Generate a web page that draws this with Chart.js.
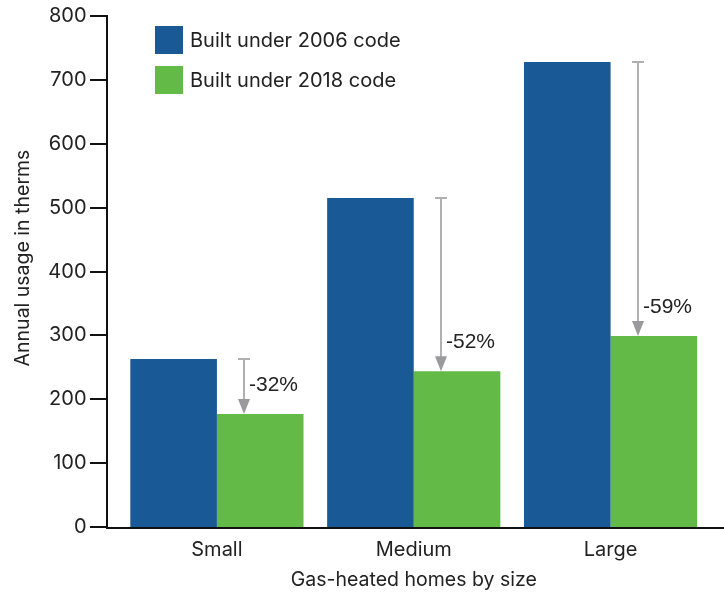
<!DOCTYPE html>
<html>
<head>
<meta charset="utf-8">
<script src="https://cdn.jsdelivr.net/npm/chart.js@4/dist/chart.umd.min.js"></script>
<style>
  body { margin: 0; background: #fff; }
  #wrap { width: 724px; height: 592px; }
</style>
</head>
<body>
<div id="wrap"><canvas id="chart" width="724" height="592"></canvas></div>
<script>
const sizes = ['Small', 'Medium', 'Large'];
const built2006 = [263, 515, 728];
const built2018 = [177, 244, 299];
const changeLabels = ['-32%', '-52%', '-59%'];
const yTicks = [0, 100, 200, 300, 400, 500, 600, 700, 800];
const yTitle = 'Annual usage in therms';

const blue = '#195a96';
const green = '#63ba47';
const textColor = '#222';

// axes, arrows, y title and legend drawn on top of the bars
const overlay = {
  id: 'overlay',
  afterDatasetsDraw(chart) {
    const { ctx, scales: { x, y } } = chart;
    const axisX = 107;
    const zeroY = y.getPixelForValue(0);
    ctx.save();

    // axis lines + y tick marks
    ctx.strokeStyle = '#111';
    ctx.lineWidth = 2;
    ctx.beginPath();
    ctx.moveTo(axisX, y.getPixelForValue(800) - 1);
    ctx.lineTo(axisX, zeroY + 2);
    ctx.moveTo(axisX - 1, zeroY + 1);
    ctx.lineTo(chart.width, zeroY + 1);
    yTicks.forEach(v => {
      const py = Math.round(y.getPixelForValue(v));
      ctx.moveTo(90, py);
      ctx.lineTo(axisX, py);
    });
    ctx.stroke();

    // change arrows
    const greenBars = chart.getDatasetMeta(1).data;
    greenBars.forEach((bar, i) => {
      const ax = Math.round(bar.x - bar.width / 2 + 27);
      const top = y.getPixelForValue(built2006[i]);
      const bot = y.getPixelForValue(built2018[i]);
      ctx.strokeStyle = '#b0b0b0';
      ctx.lineWidth = 2;
      ctx.beginPath();
      ctx.moveTo(ax, top);
      ctx.lineTo(ax, bot - 12);
      ctx.moveTo(ax - 6, top);
      ctx.lineTo(ax + 6, top);
      ctx.stroke();
      ctx.fillStyle = '#9a9a9c';
      ctx.beginPath();
      ctx.moveTo(ax - 6, bot - 15);
      ctx.lineTo(ax + 6, bot - 15);
      ctx.lineTo(ax, bot);
      ctx.closePath();
      ctx.fill();
      ctx.fillStyle = textColor;
      ctx.font = '21px "Liberation Sans", Arial, sans-serif';
      ctx.textAlign = 'left';
      ctx.textBaseline = 'middle';
      ctx.fillText(changeLabels[i], ax + 5, bot - 29);
    });

    // y axis title
    ctx.save();
    ctx.translate(23, 258);
    ctx.rotate(-Math.PI / 2);
    ctx.font = '19.5px Inter, sans-serif';
    ctx.textAlign = 'center';
    ctx.fillStyle = textColor;
    ctx.fillText(yTitle, 0, 0);
    ctx.restore();

    // legend
    ctx.font = '20px Inter, "Open Sans", sans-serif';
    ctx.textAlign = 'left';
    ctx.textBaseline = 'middle';
    chart.data.datasets.forEach((ds, i) => {
      const ly = 26 + i * 40;
      ctx.fillStyle = ds.backgroundColor;
      ctx.fillRect(155, ly, 28, 28);
      ctx.fillStyle = textColor;
      ctx.fillText(ds.label, 190, ly + 15);
    });

    ctx.restore();
  }
};

new Chart(document.getElementById('chart'), {
  type: 'bar',
  data: {
    labels: sizes,
    datasets: [
      { label: 'Built under 2006 code', data: built2006, backgroundColor: blue },
      { label: 'Built under 2018 code', data: built2018, backgroundColor: green }
    ]
  },
  options: {
    responsive: false,
    animation: false,
    devicePixelRatio: 1,
    layout: { padding: { top: 0, right: 15, left: 0, bottom: 0 } },
    plugins: { legend: { display: false }, tooltip: { enabled: false } },
    datasets: { bar: { categoryPercentage: 0.88, barPercentage: 1 } },
    scales: {
      x: {
        grid: { display: false, drawTicks: false },
        border: { display: false },
        ticks: { color: textColor, padding: 11, font: { family: 'Inter', size: 20 } },
        title: {
          display: true, text: 'Gas-heated homes by size', color: textColor,
          font: { family: 'Inter', size: 19.5 }, padding: { top: 4, bottom: 0 }
        },
        afterFit(scale) { scale.height = 65; }
      },
      y: {
        min: 0, max: 800,
        grid: { display: false, drawTicks: true, tickLength: 28 },
        border: { display: false },
        afterBuildTicks(scale) { scale.ticks = yTicks.map(v => ({ value: v })); },
        ticks: { color: textColor, padding: 4, font: { family: 'Inter', size: 20 } },
        afterFit(scale) { scale.width = 118.5; }
      }
    }
  },
  plugins: [overlay]
});
</script>
</body>
</html>
